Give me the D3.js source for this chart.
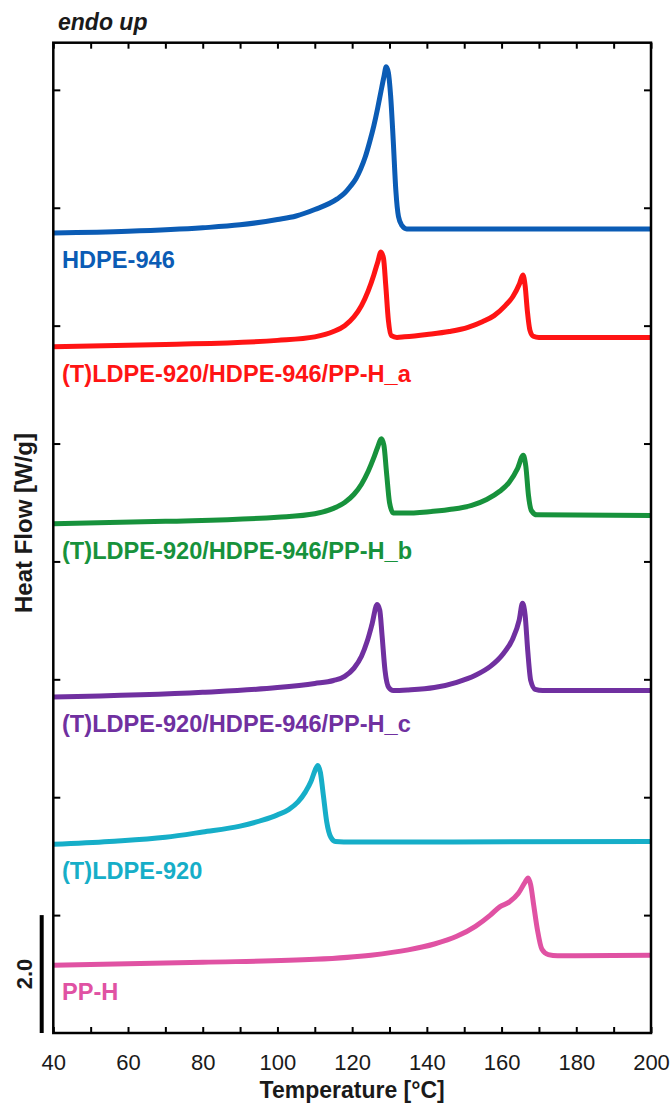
<!DOCTYPE html>
<html>
<head>
<meta charset="utf-8">
<script src="https://cdn.jsdelivr.net/npm/d3@7"></script>
<style>
  html, body { margin: 0; padding: 0; background: #fff; }
  svg { display: block; font-family: "Liberation Sans", Arial, sans-serif; }
</style>
</head>
<body>
<div id="chart"></div>
<script>
// DSC heating curves, stacked with vertical offsets (Heat Flow, W/g, endo up)
const tempTicks = [40, 60, 80, 100, 120, 140, 160, 180, 200];
const seriesNames = [
  "HDPE-946",
  "(T)LDPE-920/HDPE-946/PP-H_a",
  "(T)LDPE-920/HDPE-946/PP-H_b",
  "(T)LDPE-920/HDPE-946/PP-H_c",
  "(T)LDPE-920",
  "PP-H"
];
const seriesColors = ["#0b5cb5", "#ff1414", "#17923c", "#7030a0", "#16aec8", "#e052a3"];

// [temperature °C, shifted heat flow W/g]
const hdpe946 = [
  [40, 13.57], [60, 13.60], [80, 13.66], [90, 13.71], [100, 13.80], [105, 13.86],
  [110, 13.97], [116, 14.15], [118, 14.25], [119.5, 14.36], [121, 14.49], [122.3, 14.66],
  [123.5, 14.86], [124.7, 15.12], [125.8, 15.39], [126.8, 15.68], [127.7, 15.97],
  [128.5, 16.22], [129.1, 16.39], [129.7, 16.29], [130.3, 15.90], [131, 15.14],
  [131.7, 14.29], [132.4, 13.85], [133.3, 13.70], [134.6, 13.64], [140, 13.64], [200, 13.64]
];
const blendA = [
  [40, 11.64], [70, 11.68], [100, 11.75], [110, 11.81], [115, 11.90], [118, 12.00],
  [120.5, 12.15], [122.5, 12.34], [124.3, 12.59], [125.8, 12.86], [126.9, 13.09],
  [127.7, 13.25], [128.4, 13.14], [129, 12.68], [129.7, 12.09], [130.5, 11.83], [132, 11.80],
  [134, 11.81], [140, 11.85], [146, 11.90], [151, 11.97], [155, 12.07], [158, 12.17],
  [161, 12.34], [163, 12.49], [164.8, 12.71], [165.7, 12.86], [166.3, 12.68], [166.9, 12.25],
  [167.6, 11.92], [168.5, 11.82], [170, 11.80], [200, 11.80]
];
const blendB = [
  [40, 8.64], [70, 8.68], [100, 8.75], [110, 8.81], [115, 8.90], [118, 9.00],
  [120.5, 9.14], [122.5, 9.31], [124.3, 9.53], [125.8, 9.76], [126.9, 9.95], [127.8, 10.08],
  [128.5, 9.97], [129.2, 9.51], [130, 9.00], [131, 8.82], [134, 8.82], [140, 8.84],
  [146, 8.88], [152, 8.95], [156, 9.05], [159.5, 9.19], [162, 9.34], [164.3, 9.58],
  [165.8, 9.80], [166.5, 9.61], [167.2, 9.12], [168, 8.86], [169.5, 8.79], [200, 8.78]
];
const blendC = [
  [40, 5.70], [80, 5.78], [100, 5.86], [110, 5.93], [115, 5.98], [118, 6.05],
  [120.5, 6.19], [122.5, 6.39], [124, 6.64], [125.3, 6.93], [126.7, 7.27], [127.4, 7.17],
  [128, 6.75], [128.8, 6.15], [129.8, 5.86], [131, 5.81], [135, 5.82], [142, 5.86],
  [148, 5.95], [153, 6.07], [157, 6.22], [160.5, 6.44], [163, 6.69], [164.7, 7.00],
  [165.6, 7.29], [166.3, 7.09], [167, 6.49], [167.8, 5.98], [169, 5.83], [171, 5.81],
  [200, 5.81]
];
const ldpe920 = [
  [40, 3.20], [55, 3.25], [70, 3.32], [80, 3.41], [90, 3.51], [96, 3.61], [100, 3.70],
  [103, 3.79], [105.5, 3.92], [107.5, 4.09], [109, 4.27], [110.1, 4.46], [110.8, 4.54],
  [111.5, 4.42], [112.3, 4.03], [113.2, 3.58], [114.3, 3.32], [115.5, 3.25], [120, 3.24],
  [200, 3.25]
];
const ppH = [
  [40, 1.15], [80, 1.20], [110, 1.25], [125, 1.32], [135, 1.41], [142, 1.51], [148, 1.64],
  [153, 1.81], [157, 2.00], [159.5, 2.14], [162, 2.22], [164.5, 2.37], [166.3, 2.56],
  [167.1, 2.63], [167.8, 2.51], [168.6, 2.17], [169.6, 1.75], [170.8, 1.42], [172.5, 1.33],
  [175, 1.31], [200, 1.32]
];
const seriesData = [hdpe946, blendA, blendB, blendC, ldpe920, ppH];
const scaleBarValue = 2.0;

const width = 672, height = 1106;
const plot = { left: 53.3, right: 651, top: 42.7, bottom: 1033 };

const svg = d3.select("#chart").append("svg")
  .attr("width", width).attr("height", height);

const x = d3.scaleLinear().domain([40, 200]).range([plot.left, plot.right]);
const y = d3.scaleLinear().domain([0, 16.8]).range([plot.bottom, plot.top]);

svg.append("clipPath").attr("id", "plot-clip")
  .append("rect")
  .attr("x", plot.left).attr("y", plot.top)
  .attr("width", plot.right - plot.left).attr("height", plot.bottom - plot.top);

// curves
const line = d3.line()
  .x(d => x(d[0]))
  .y(d => y(d[1]))
  .curve(d3.curveMonotoneX);

const curves = svg.append("g").attr("clip-path", "url(#plot-clip)");
seriesData.forEach((data, i) => {
  curves.append("path")
    .datum(data)
    .attr("d", line)
    .attr("fill", "none")
    .attr("stroke", seriesColors[i])
    .attr("stroke-width", 5)
    .attr("stroke-linejoin", "round");
});

// series labels, placed just below each curve's starting level
seriesData.forEach((data, i) => {
  svg.append("text")
    .attr("x", 62)
    .attr("y", y(data[0][1]) + 35)
    .attr("fill", seriesColors[i])
    .attr("font-size", 23.6)
    .attr("font-weight", "bold")
    .text(seriesNames[i]);
});

// axes with inward ticks
const minorTemps = d3.range(40, 201, 10);
const yTicks = d3.range(2, 17, 2);

const styleAxis = g => {
  g.select(".domain").remove();
  g.selectAll(".tick line").attr("stroke", "#000").attr("stroke-width", 2);
};

svg.append("g")
  .attr("transform", `translate(0,${plot.bottom})`)
  .call(d3.axisBottom(x).tickValues(minorTemps).tickSize(-6).tickPadding(21)
    .tickFormat(d => tempTicks.includes(d) ? d : ""))
  .call(styleAxis)
  .call(g => g.selectAll("text")
    .attr("font-size", 22).attr("fill", "#1a1a1a")
    .attr("font-family", "'Liberation Sans', Arial, sans-serif"));

svg.append("g")
  .attr("transform", `translate(0,${plot.top})`)
  .call(d3.axisTop(x).tickValues(minorTemps).tickSize(-6).tickFormat(""))
  .call(styleAxis);

svg.append("g")
  .attr("transform", `translate(${plot.left},0)`)
  .call(d3.axisLeft(y).tickValues(yTicks).tickSize(-7).tickFormat(""))
  .call(styleAxis);

svg.append("g")
  .attr("transform", `translate(${plot.right},0)`)
  .call(d3.axisRight(y).tickValues(yTicks).tickSize(-7).tickFormat(""))
  .call(styleAxis);

// frame
svg.append("rect")
  .attr("x", plot.left).attr("y", plot.top)
  .attr("width", plot.right - plot.left).attr("height", plot.bottom - plot.top)
  .attr("fill", "none").attr("stroke", "#000").attr("stroke-width", 2.5);

// axis titles
svg.append("text")
  .attr("x", (plot.left + plot.right) / 2)
  .attr("y", 1098)
  .attr("text-anchor", "middle")
  .attr("font-size", 23).attr("font-weight", "bold").attr("fill", "#1a1a1a")
  .text("Temperature [°C]");

svg.append("text")
  .attr("transform", `translate(32,523) rotate(-90)`)
  .attr("text-anchor", "middle")
  .attr("font-size", 24).attr("font-weight", "bold").attr("fill", "#1a1a1a")
  .text("Heat Flow [W/g]");

svg.append("text")
  .attr("x", 58).attr("y", 30)
  .attr("font-size", 23).attr("font-weight", "bold").attr("font-style", "italic")
  .attr("fill", "#1a1a1a")
  .text("endo up");

// heat-flow scale bar
svg.append("line")
  .attr("x1", 41.7).attr("x2", 41.7)
  .attr("y1", y(0)).attr("y2", y(scaleBarValue))
  .attr("stroke", "#000").attr("stroke-width", 4);

svg.append("text")
  .attr("transform", `translate(32,${y(scaleBarValue / 2)}) rotate(-90)`)
  .attr("text-anchor", "middle")
  .attr("font-size", 22).attr("font-weight", "bold").attr("fill", "#1a1a1a")
  .text(scaleBarValue.toFixed(1));
</script>
</body>
</html>
